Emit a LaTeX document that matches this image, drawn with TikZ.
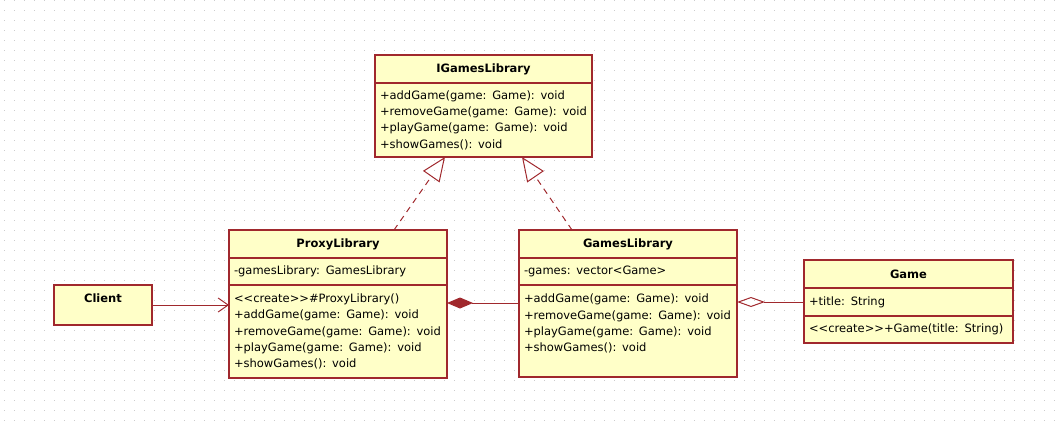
\documentclass[tikz,border=0pt]{standalone}
\usepackage{fontspec}
\setmainfont{DejaVu Sans}
\usetikzlibrary{arrows.meta,positioning}
\definecolor{umlred}{RGB}{160,40,45}
\definecolor{umlfill}{RGB}{255,255,200}
\definecolor{griddot}{RGB}{205,205,205}
\newcommand{\umlfont}{\fontsize{11.5}{16.3}\selectfont}

\begin{document}
\begin{tikzpicture}[x=1pt,y=-1pt]
  % Parameters
  \def\libwidth{218pt}
  \def\libtext{208pt}
  \def\headheight{28pt}

  \tikzset{
    classhead/.style={draw=umlred, fill=umlfill, line width=1.2pt, outer sep=0pt,
      inner sep=0pt, font=\bfseries\umlfont, anchor=north west, minimum height=\headheight},
    classpart/.style={draw=umlred, fill=umlfill, line width=1.2pt, outer sep=0pt,
      inner xsep=5pt, inner ysep=0pt, align=left, font=\umlfont, text width=#1},
    link/.style={draw=umlred, line width=1pt},
    realize/.style={link, dash pattern=on 6pt off 5pt, -{Triangle[open, length=24pt, width=20pt]}}
  }

  \useasboundingbox (0,0) rectangle (1061,428);

  % Dot grid of the canvas
  \foreach \gx in {4,14,...,1060} {
    \foreach \gy in {0,10,...,420} {
      \fill[griddot] (\gx,\gy) rectangle +(1,1);
    }
  }

  % IGamesLibrary
  \node[classhead, minimum width=217pt] (igameshead) at (375,55) {IGamesLibrary};
  \node[classpart=207pt, below=0pt of igameshead, minimum height=74pt] (igamesops)
    {+addGame(game: Game): void\\+removeGame(game: Game): void\\+playGame(game: Game): void\\+showGames(): void};

  % ProxyLibrary
  \node[classhead, minimum width=\libwidth] (proxyhead) at (229,230) {ProxyLibrary};
  \node[classpart=\libtext, below=0pt of proxyhead, minimum height=27pt] (proxyattr)
    {-gamesLibrary: GamesLibrary};
  \node[classpart=\libtext, below=0pt of proxyattr, minimum height=93pt] (proxyops)
    {<{}<create>{}>\#ProxyLibrary()\\+addGame(game: Game): void\\+removeGame(game: Game): void\\+playGame(game: Game): void\\+showGames(): void};

  % GamesLibrary
  \node[classhead, minimum width=\libwidth] (gameslibhead) at (519,230) {GamesLibrary};
  \node[classpart=\libtext, below=0pt of gameslibhead, minimum height=27pt] (gameslibattr)
    {-games: vector<Game>};
  \node[classpart=\libtext, below=0pt of gameslibattr, minimum height=92pt] (gameslibops)
    {+addGame(game: Game): void\\+removeGame(game: Game): void\\+playGame(game: Game): void\\+showGames(): void\\\mbox{}};

  % Game
  \node[classhead, minimum width=209pt] (gamehead) at (804,260) {Game};
  \node[classpart=199pt, below=0pt of gamehead, minimum height=28pt] (gameattr)
    {+title: String};
  \node[classpart=199pt, below=0pt of gameattr, minimum height=27pt] (gameops)
    {<{}<create>{}>+Game(title: String)};

  % Client
  \node[classhead, minimum width=98pt, minimum height=40pt, text depth=14pt] (client)
    at (54,285) {Client};

  % Connectors
  \draw[link, -{Straight Barb[length=10pt, width=14pt]}] (client.east) -- (client.east -| proxyops.west);
  \draw[link, {Diamond[length=26pt, width=11pt, fill=umlred]}-]
    ([yshift=-18pt]proxyops.north east) -- ([yshift=-18pt]gameslibops.north west);
  \draw[link, {Diamond[open, length=28pt, width=10pt]}-]
    (gameattr.west -| gameslibops.east) -- (gameattr.west);
  \draw[realize] ([xshift=56pt]proxyhead.north) -- ([xshift=-38.5pt]igamesops.south);
  \draw[realize] ([xshift=-56pt]gameslibhead.north) -- ([xshift=38.5pt]igamesops.south);

\end{tikzpicture}
\end{document}
